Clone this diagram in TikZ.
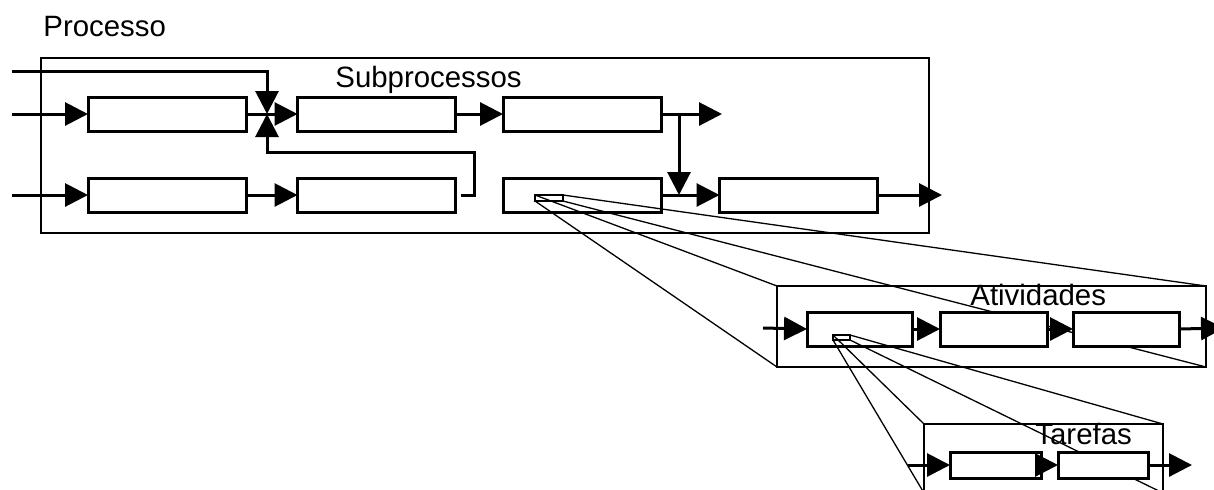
\documentclass[tikz,border=0pt]{standalone}
\usepackage{fontspec}
\setmainfont{Liberation Sans}
\usetikzlibrary{arrows.meta,calc}

\tikzset{
  blk/.style={draw,line width=1.5pt,fill=white,inner sep=0pt,outer sep=0pt,minimum height=17pt},
  frame/.style={draw,line width=0.8pt,inner sep=0pt,outer sep=0pt},
  detail/.style={draw,line width=0.6pt,fill=white,inner sep=0pt,outer sep=0pt},
  flow/.style={line width=1.5pt,-{Triangle[length=11.5pt,width=11.5pt]}},
  ray/.style={line width=0.65pt},
  lbl/.style={inner sep=0pt,anchor=base west,font=\fontsize{14.7pt}{17pt}\selectfont},
}

\begin{document}
\begin{tikzpicture}[x=0.5pt,y=-0.5pt]
  \useasboundingbox (0,0) rectangle (1214,489);
  \clip (0,0) rectangle (1214,489);
  % process level
  \node[lbl] (tproc) at (43,36) {Processo};
  \node[frame,line width=1.4pt,minimum width=444pt,minimum height=87.5pt] (proc) at (485,145.5) {};
  \node[lbl] (tsub) at (335,87) {Subprocessos};
  \node[blk,minimum width=79pt] (b3) at (582,195) {};
  \node[detail,minimum width=14pt,minimum height=3pt] (detb) at (549,198) {};
  % activity level
  \node[frame,minimum width=214.5pt,minimum height=40.5pt] (act) at (991.5,326.5) {};
  \node[lbl] (tact) at (970,305) {Atividades};
  \node[blk,minimum width=52.5pt] (c1) at (859.5,329) {};
  \node[detail,minimum width=8.5pt,minimum height=2.5pt] (detc) at (841.5,337.5) {};
  % task level
  \node[frame,minimum width=119.5pt,minimum height=34.5pt] (task) at (1043.5,458.5) {};
  \node[lbl] (ttask) at (1035,444) {Tarefas};
  % zoom rays
  \draw[ray] (detb.north west) -- (act.north west);
  \draw[ray] (detb.north east) -- (act.north east);
  \draw[ray] (detb.south west) -- (act.south west);
  \draw[ray] (detb.south east) -- (act.south east);
  \draw[ray] (detc.north west) -- (task.north west);
  \draw[ray] (detc.north east) -- (task.north east);
  \draw[ray] (detc.south west) -- (task.south west);
  \draw[ray] (detc.south east) -- (task.south east);
  % subprocess blocks
  \node[blk,minimum width=79pt] (a1) at (167,114) {};
  \node[blk,minimum width=79pt] (a2) at (376.5,114) {};
  \node[blk,minimum width=79pt] (a3) at (582,114) {};
  \node[blk,minimum width=79pt] (b1) at (167,195) {};
  \node[blk,minimum width=79pt] (b2) at (376.5,195) {};
  \node[blk,minimum width=79pt] (b4) at (798.5,195) {};
  \coordinate (in1) at (12,71);
  \coordinate (in2) at (12,114);
  \coordinate (in3) at (12,195);
  \coordinate (j) at (267,114);
  \coordinate (fb) at (474,152);
  \coordinate (br) at (679,114);
  \coordinate (out1) at (722,114);
  \coordinate (out2) at (942,195);
  \draw[flow] (in1) -| (j);
  \draw[flow] ($(b2.east)+(5,0)$) -| (fb) -| (j);
  \draw[flow] (in2) -- (a1.west);
  \draw[flow] (a1.east) -- (a2.west);
  \draw[flow] (a2.east) -- (a3.west);
  \draw[flow] (a3.east) -- (out1);
  \draw[flow] (br) -- (br |- b3.east);
  \draw[flow] (in3) -- (b1.west);
  \draw[flow] (b1.east) -- (b2.west);
  \draw[flow] (b3.east) -- (b4.west);
  \draw[flow] (b4.east) -- (out2);
  % activity blocks
  \node[blk,minimum width=53.5pt] (c2) at (993.5,329) {};
  \node[blk,minimum width=53pt] (c3) at (1126,329) {};
  \coordinate (cin) at (763,328);
  \coordinate (cout) at (1224,328);
  \draw[flow] (cin) -- (c1.west);
  \draw[flow] (c1.east) -- (c2.west);
  \draw[flow] (c2.east) -- (c3.west);
  \draw[flow] (c3.east) -- (cout);
  % task blocks
  \node[blk,minimum width=45.5pt,minimum height=13pt] (d1) at (995.5,465) {};
  \node[blk,minimum width=45pt,minimum height=13pt] (d2) at (1103,465) {};
  \coordinate (din) at (908,465);
  \coordinate (dout) at (1192,465);
  \draw[flow] (din) -- (d1.west);
  \draw[flow] (d1.east) -- (d2.west);
  \draw[flow] (d2.east) -- (dout);
\end{tikzpicture}
\end{document}
